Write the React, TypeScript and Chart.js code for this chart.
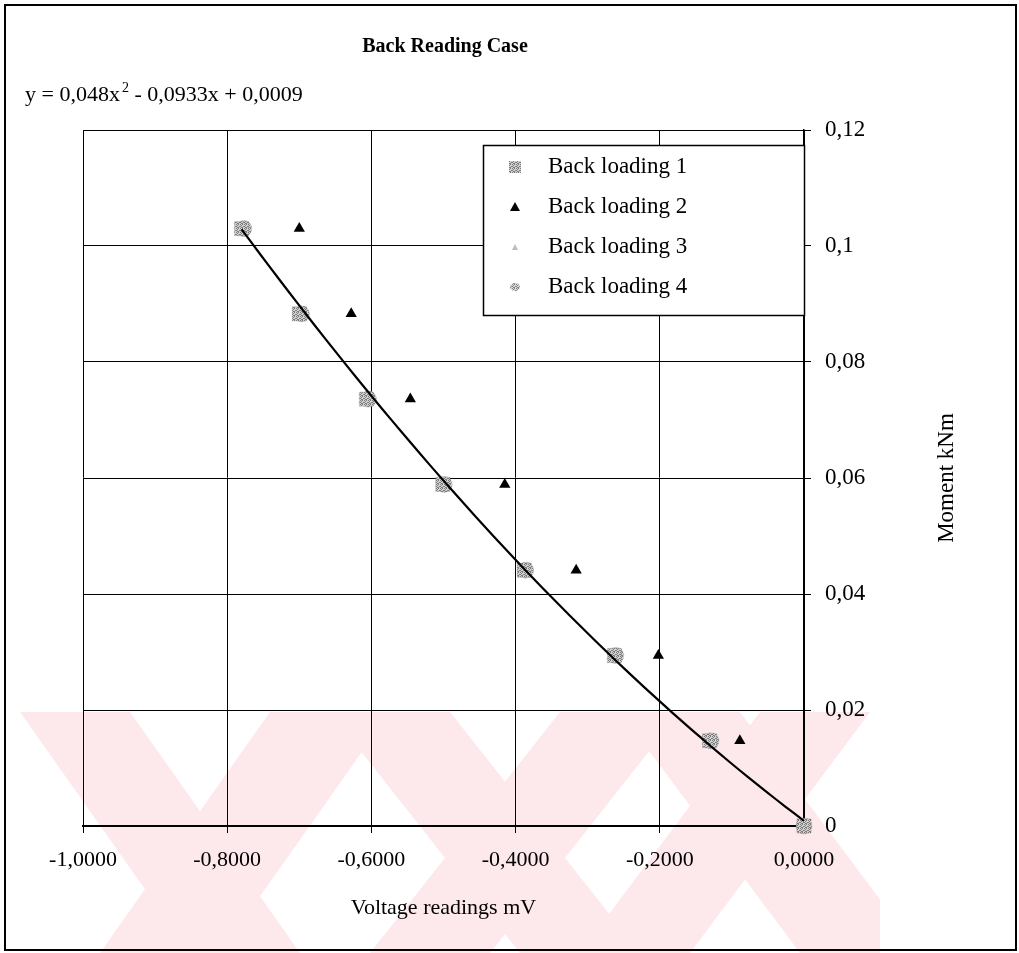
import React, { useEffect, useRef } from 'react';
import { Chart, registerables } from 'chart.js';

Chart.register(...registerables);

// Applied moment for each load step (kNm)
const MOMENT = [0.103, 0.0883, 0.0736, 0.0589, 0.0441, 0.0294, 0.0147, 0];

// Voltage readings (mV) for each loading run
const LOADING_1 = [-0.78, -0.7, -0.607, -0.501, -0.388, -0.263, -0.131, 0];
const LOADING_2 = [-0.7, -0.628, -0.546, -0.415, -0.316, -0.202, -0.089, 0];
const LOADING_3 = [-0.779, -0.699, -0.606, -0.5, -0.387, -0.262, -0.13, 0];
const LOADING_4 = [-0.777, -0.697, -0.604, -0.499, -0.386, -0.261, -0.129, 0];

const SERIES_NAMES = ['Back loading 1', 'Back loading 2', 'Back loading 3', 'Back loading 4'];

// Polynomial trendline y = a x^2 + b x + c
const TREND_COEFFS = [0.048, -0.0933, 0.0009];

const X_TICKS = [-1, -0.8, -0.6, -0.4, -0.2, 0];
const Y_TICKS = [0, 0.02, 0.04, 0.06, 0.08, 0.1, 0.12];

const TITLE = 'Back Reading Case';
const X_TITLE = 'Voltage readings mV';
const Y_TITLE = 'Moment kNm';

const SERIF = '"Liberation Serif", "Times New Roman", serif';

const fmtX = (v: number) => {
  const s = Math.abs(v) < 1e-9 ? '0.0000' : v.toFixed(4);
  return s.replace('.', ',');
};
const fmtY = (v: number) => String(parseFloat(v.toFixed(3))).replace('.', ',');

// small dithered grey fill used for the marker faces
function makeStipple(dark: string, light: string): CanvasPattern | string {
  const c = document.createElement('canvas');
  c.width = 4;
  c.height = 4;
  const g = c.getContext('2d');
  if (!g) return '#a0a0a0';
  g.fillStyle = light;
  g.fillRect(0, 0, 4, 4);
  g.fillStyle = dark;
  const dots = [
    [0, 0], [2, 0], [1, 1], [3, 2], [0, 2], [2, 3], [1, 3],
  ];
  for (const [x, y] of dots) g.fillRect(x, y, 1, 1);
  const p = g.createPattern(c, 'repeat');
  return p || '#a0a0a0';
}

function trendPoints() {
  const xs = [...LOADING_1, ...LOADING_4];
  const lo = Math.min(...xs);
  const hi = Math.max(...xs);
  const [a, b, c] = TREND_COEFFS;
  const pts: { x: number; y: number }[] = [];
  const n = 60;
  for (let i = 0; i <= n; i++) {
    const x = lo + ((hi - lo) * i) / n;
    pts.push({ x, y: a * x * x + b * x + c });
  }
  return pts;
}

const toPoints = (xs: number[]) => xs.map((x, i) => ({ x, y: MOMENT[i] }));

export default function App() {
  const ref = useRef<HTMLCanvasElement>(null);

  useEffect(() => {
    document.body.style.margin = '0';
    const canvas = ref.current;
    if (!canvas) return;

    const squareFill = makeStipple('#7c7c7c', '#d2d2d2');
    const roundFill = makeStipple('#858585', '#d8d8d8');

    const background = {
      id: 'pageBackground',
      beforeDraw(chart: any) {
        const { ctx, width, height } = chart;
        ctx.save();
        ctx.fillStyle = '#ffffff';
        ctx.fillRect(0, 0, width, height);
        // faint diagonal band print behind the lower part of the chart
        ctx.fillStyle = '#fde8ec';
        const top = 712;
        const bottom = height;
        const bands: [number, number, number][] = [
          [20, 130, 170],
          [270, 390, -170],
          [330, 450, 190],
          [560, 680, -190],
          [620, 740, 180],
          [760, 870, -180],
        ];
        ctx.beginPath();
        ctx.rect(0, top, 880, bottom - top);
        ctx.clip();
        for (const [x0, x1, dx] of bands) {
          ctx.beginPath();
          ctx.moveTo(x0, top);
          ctx.lineTo(x1, top);
          ctx.lineTo(x1 + dx, bottom);
          ctx.lineTo(x0 + dx, bottom);
          ctx.closePath();
          ctx.fill();
        }
        ctx.restore();
      },
    };

    const overlay = {
      id: 'overlayText',
      afterDraw(chart: any) {
        const { ctx, chartArea } = chart;
        ctx.save();

        // legend box
        const bx = 483;
        const by = chartArea.top + 15;
        const bw = chartArea.right - bx;
        const bh = 170;
        ctx.fillStyle = '#ffffff';
        ctx.fillRect(bx, by, bw, bh);
        ctx.strokeStyle = '#000';
        ctx.lineWidth = 1.5;
        ctx.strokeRect(bx + 0.5, by + 0.5, bw, bh);

        ctx.font = `23px ${SERIF}`;
        ctx.textBaseline = 'middle';
        ctx.textAlign = 'left';
        const mx = bx + 32;
        SERIES_NAMES.forEach((name, i) => {
          const y = by + 22 + i * 40;
          if (i === 0) {
            ctx.fillStyle = squareFill;
            ctx.fillRect(mx - 6, y - 6, 12, 12);
          } else if (i === 1) {
            ctx.fillStyle = '#000';
            ctx.beginPath();
            ctx.moveTo(mx, y - 5);
            ctx.lineTo(mx + 5, y + 4);
            ctx.lineTo(mx - 5, y + 4);
            ctx.closePath();
            ctx.fill();
          } else if (i === 2) {
            ctx.fillStyle = '#bdbdbd';
            ctx.beginPath();
            ctx.moveTo(mx, y - 3);
            ctx.lineTo(mx + 3, y + 3);
            ctx.lineTo(mx - 3, y + 3);
            ctx.closePath();
            ctx.fill();
          } else {
            ctx.fillStyle = roundFill;
            ctx.beginPath();
            ctx.ellipse(mx, y, 5, 4, 0, 0, Math.PI * 2);
            ctx.fill();
          }
          ctx.fillStyle = '#000';
          ctx.fillText(name, bx + 65, y);
        });

        // chart title
        ctx.fillStyle = '#000';
        ctx.textAlign = 'center';
        ctx.font = `bold 20px ${SERIF}`;
        ctx.fillText(TITLE, 445, 47);

        // trendline equation
        ctx.textAlign = 'left';
        ctx.font = `22px ${SERIF}`;
        let x = 25;
        const ey = 95;
        const part1 = 'y = 0,048x';
        ctx.fillText(part1, x, ey);
        x += ctx.measureText(part1).width + 2;
        ctx.font = `14px ${SERIF}`;
        ctx.fillText('2', x, ey - 7);
        x += ctx.measureText('2').width;
        ctx.font = `22px ${SERIF}`;
        ctx.fillText(' - 0,0933x + 0,0009', x, ey);

        // vertical axis title on the right
        ctx.save();
        ctx.translate(947, (chartArea.top + chartArea.bottom) / 2);
        ctx.rotate(-Math.PI / 2);
        ctx.textAlign = 'center';
        ctx.font = `23px ${SERIF}`;
        ctx.fillText(Y_TITLE, 0, 0);
        ctx.restore();

        // outer frame
        ctx.strokeStyle = '#000';
        ctx.lineWidth = 2;
        ctx.strokeRect(5, 5, 1011, 945);
        ctx.restore();
      },
    };

    const chart = new Chart(canvas, {
      type: 'scatter',
      data: {
        datasets: [
          {
            label: SERIES_NAMES[0],
            data: toPoints(LOADING_1),
            pointStyle: 'rect',
            pointRadius: 10,
            backgroundColor: squareFill as any,
            borderColor: 'rgba(110,110,110,0.5)',
            borderWidth: 0.5,
            clip: false,
            order: 2,
          },
          {
            label: SERIES_NAMES[1],
            data: toPoints(LOADING_2),
            pointStyle: 'triangle',
            pointRadius: 6.5,
            backgroundColor: '#000',
            borderColor: '#000',
            borderWidth: 0,
            clip: false,
            order: 2,
          },
          {
            label: SERIES_NAMES[2],
            data: toPoints(LOADING_3),
            pointStyle: 'triangle',
            pointRadius: 4,
            backgroundColor: '#c8c8c8',
            borderColor: '#c8c8c8',
            borderWidth: 0,
            clip: false,
            order: 3,
          },
          {
            label: SERIES_NAMES[3],
            data: toPoints(LOADING_4),
            pointStyle: 'circle',
            pointRadius: 8,
            backgroundColor: roundFill as any,
            borderColor: 'rgba(120,120,120,0.5)',
            borderWidth: 0.5,
            clip: false,
            order: 4,
          },
          {
            label: 'trend',
            data: trendPoints(),
            showLine: true,
            pointRadius: 0,
            borderColor: '#000',
            borderWidth: 2.2,
            fill: false,
            order: 1,
          } as any,
        ],
      },
      options: {
        animation: false,
        responsive: false,
        maintainAspectRatio: false,
        layout: { padding: { left: 83, top: 130, right: 0, bottom: 0 } },
        plugins: {
          legend: { display: false },
          tooltip: { enabled: false },
          title: { display: false },
        },
        scales: {
          x: {
            type: 'linear',
            position: 'bottom',
            min: -1,
            max: 0,
            afterBuildTicks: (s: any) => {
              s.ticks = X_TICKS.map((value) => ({ value }));
            },
            afterFit: (s: any) => {
              s.height = 127;
            },
            ticks: {
              callback: (v: any) => fmtX(Number(v)),
              font: { family: SERIF, size: 22 },
              color: '#000',
              padding: 14,
              maxRotation: 0,
              autoSkip: false,
            },
            grid: { color: '#000', lineWidth: 1, tickLength: 7, tickColor: '#000' },
            border: { color: '#000', width: 2 },
            title: {
              display: true,
              text: X_TITLE,
              font: { family: SERIF, size: 22 },
              color: '#000',
              padding: { top: 0, bottom: 32 },
            },
          },
          y: {
            type: 'linear',
            position: 'right',
            min: 0,
            max: 0.12,
            afterBuildTicks: (s: any) => {
              s.ticks = Y_TICKS.map((value) => ({ value }));
            },
            afterFit: (s: any) => {
              s.width = 215;
            },
            ticks: {
              callback: (v: any) => fmtY(Number(v)),
              font: { family: SERIF, size: 23 },
              color: '#000',
              padding: 14,
              autoSkip: false,
            },
            grid: { color: '#000', lineWidth: 1, tickLength: 7, tickColor: '#000' },
            border: { color: '#000', width: 1.5 },
          },
        },
      },
      plugins: [background, overlay],
    });

    return () => chart.destroy();
  }, []);

  return <canvas ref={ref} width={1019} height={953} style={{ display: 'block' }} />;
}
